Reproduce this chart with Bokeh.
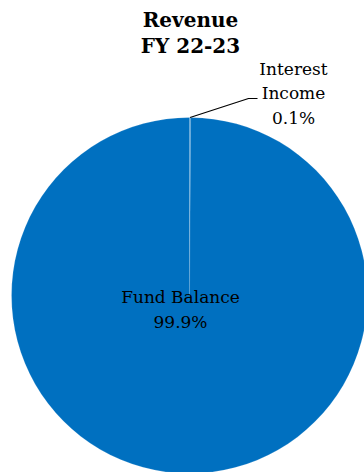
import math
import numpy as np
from bokeh.plotting import figure
from bokeh.models import Label, Range1d
from bokeh.embed import file_html
from bokeh.resources import INLINE

title_lines = ["Revenue", "FY 22-23"]
categories = ["Interest Income", "Fund Balance"]
values = [0.1, 99.9]
colors = ["#0070C0", "#0070C0"]

W, H = 364, 472
p = figure(width=W, height=H, output_backend="svg", toolbar_location=None,
           x_range=Range1d(0, W), y_range=Range1d(0, H), min_border=0)
p.axis.visible = False
p.grid.visible = False
p.outline_line_color = None
p.background_fill_color = "white"
p.border_fill_color = "white"

cx, cy, r = 189, 177, 178
vals = np.array(values, dtype=float)
frac = vals / vals.sum()
ends = np.cumsum(frac)
starts = ends - frac
start_ang = [math.pi / 2 - 2 * math.pi * s for s in starts]
end_ang = [math.pi / 2 - 2 * math.pi * e for e in ends]
p.wedge(x=cx, y=cy, radius=r, start_angle=start_ang, end_angle=end_ang,
        direction="clock", fill_color=colors, line_color="white", line_width=0.5,
        line_alpha=0.35)

mid = (start_ang[0] + end_ang[0]) / 2
x0 = cx + r * math.cos(mid)
y0 = cy + r * math.sin(mid)
p.line(x=[x0, 248, 257], y=[y0, 374, 374], line_color="black", line_width=1.2)

font = "DejaVu Serif"

def lab(x, y, t, size="17px", bold=False):
    p.add_layout(Label(x=x, y=y, text=t, text_font=font, text_font_size=size,
                       text_font_style="bold" if bold else "normal",
                       text_align="center", text_baseline="middle",
                       text_color="black"))

lab(190, 453, title_lines[0], "20px", True)
lab(190, 427, title_lines[1], "20px", True)

pct = [f"{v:.1f}%" for v in values]
w0 = categories[0].split(" ")
lab(293, 404, w0[0])
lab(293, 380, w0[1])
lab(293, 355, pct[0])
lab(180, 176, categories[1])
lab(180, 151, pct[1])

open("out.html", "w").write(file_html(p, INLINE))
